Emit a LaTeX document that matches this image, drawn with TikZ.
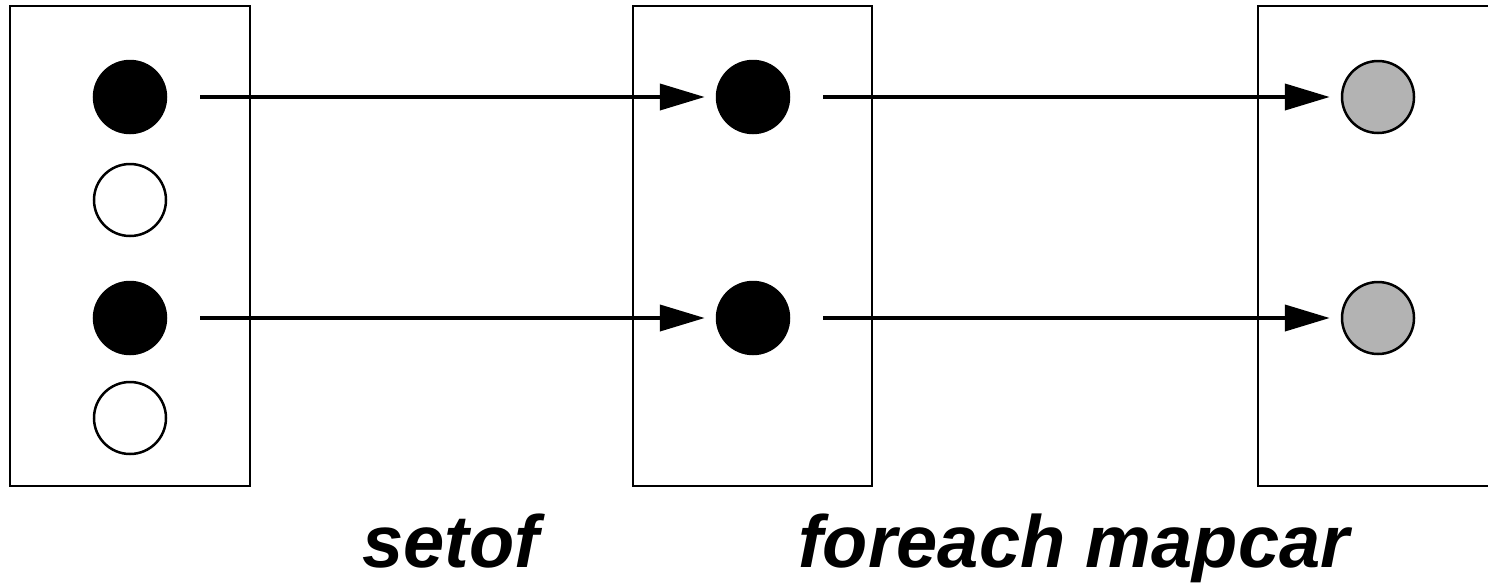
\documentclass[tikz,border=0pt]{standalone}
\usepackage{fontspec}
\setmainfont{Liberation Sans}
\usetikzlibrary{arrows.meta}
\definecolor{dotgray}{HTML}{B3B3B3}
\begin{document}
\begin{tikzpicture}[x=1pt,y=-1pt,
  frame/.style={draw=black,line width=2.5pt},
  dot/.style={circle,draw=black,line width=2.5pt,minimum size=72pt,inner sep=0pt},
  full/.style={dot,fill=black},
  empty/.style={dot,fill=white},
  grey/.style={dot,fill=dotgray},
  link/.style={line width=4pt,-{Triangle[length=45pt,width=26pt]},shorten <=33pt,shorten >=11pt},
  label/.style={font=\fontsize{74}{88}\selectfont\bfseries\itshape,inner sep=0pt,anchor=base west}]
\useasboundingbox (0,0) rectangle (1488,584);
\begin{scope}
\clip (0,0) rectangle (1488,584);
% the three containers
\draw[frame] (10,6) rectangle (250,486);
\draw[frame] (633,6) rectangle (872,486);
\draw[frame] (1258,6) rectangle (1498,486);
\end{scope}
% elements of the source set
\node[full]  (a1) at (130,97)  {};
\node[empty] (a2) at (130,200) {};
\node[full]  (a3) at (130,318) {};
\node[empty] (a4) at (130,418) {};
% selected elements
\node[full]  (b1) at (753,97)  {};
\node[full]  (b2) at (753,318) {};
% mapped elements
\node[grey]  (c1) at (1378,97)  {};
\node[grey]  (c2) at (1378,318) {};
% mappings
\draw[link] (a1) -- (b1);
\draw[link] (a3) -- (b2);
\draw[link] (b1) -- (c1);
\draw[link] (b2) -- (c2);
% captions
\node[label] (l1) at (362,567) {setof};
\node[label] (l2) at (798,567) {foreach mapcar};
\end{tikzpicture}
\end{document}
